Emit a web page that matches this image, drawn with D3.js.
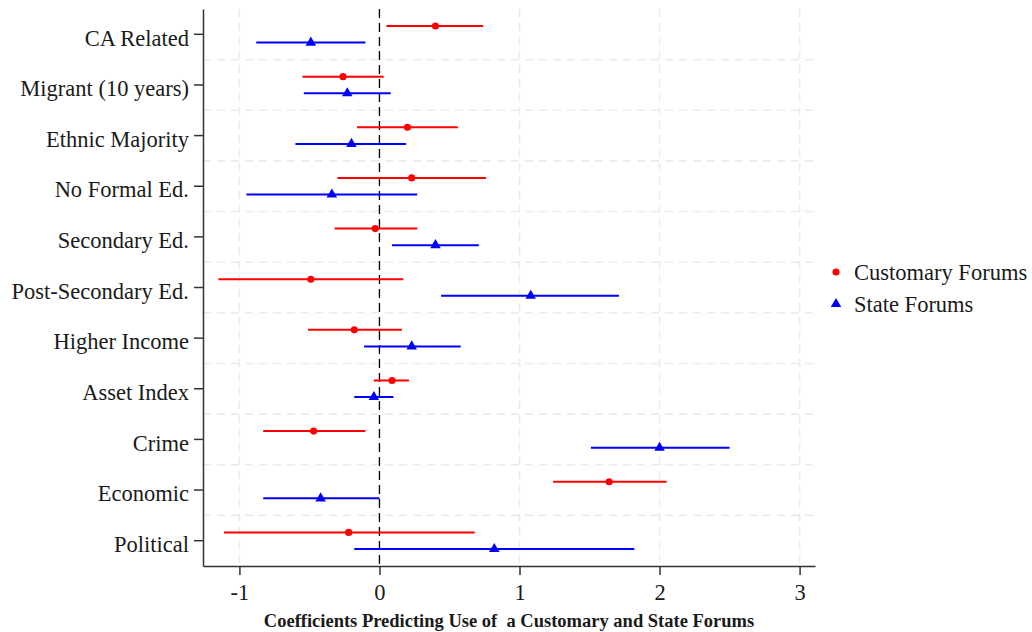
<!DOCTYPE html>
<html>
<head>
<meta charset="utf-8">
<script src="https://cdn.jsdelivr.net/npm/d3@7"></script>
<style>
body { margin: 0; background: #fff; }
text { font-family: "Liberation Serif", "Times New Roman", serif; fill: #1a1a1a; }
</style>
</head>
<body>
<div id="chart"></div>
<script>
var categories = ["CA Related", "Migrant (10 years)", "Ethnic Majority", "No Formal Ed.",
  "Secondary Ed.", "Post-Secondary Ed.", "Higher Income", "Asset Index",
  "Crime", "Economic", "Political"];

// Customary forums: estimate and interval
var custEst = [0.40, -0.26, 0.20, 0.23, -0.03, -0.49, -0.18, 0.09, -0.47, 1.64, -0.22];
var custLo  = [0.05, -0.55, -0.16, -0.30, -0.32, -1.15, -0.51, -0.04, -0.83, 1.24, -1.11];
var custHi  = [0.74, 0.03, 0.56, 0.76, 0.27, 0.17, 0.16, 0.21, -0.10, 2.05, 0.68];

// State forums
var stateEst = [-0.49, -0.23, -0.20, -0.34, 0.40, 1.08, 0.23, -0.04, 2.00, -0.42, 0.82];
var stateLo  = [-0.88, -0.54, -0.60, -0.95, 0.09, 0.44, -0.11, -0.18, 1.51, -0.83, -0.18];
var stateHi  = [-0.10, 0.08, 0.19, 0.27, 0.71, 1.71, 0.58, 0.10, 2.50, 0.00, 1.82];

var xTicks = [-1, 0, 1, 2, 3];
var seriesNames = ["Customary Forums", "State Forums"];
var seriesColors = ["#ff0000", "#0000ff"];
var xTitle = "Coefficients Predicting Use of  a Customary and State Forums";

var width = 1032, height = 632;
var serif = "'Liberation Serif', 'Times New Roman', serif";

var svg = d3.select("#chart").append("svg")
  .attr("width", width)
  .attr("height", height);

var xScale = d3.scaleLinear()
  .domain([-1.26, 3.11])
  .range([203, 815]);

var yScale = d3.scaleBand()
  .domain(categories)
  .range([9, 566]);

var bw = yScale.bandwidth();

//Grid lines
var grid = svg.append("g");
grid.selectAll(".hgrid")
  .data(categories.slice(1))
  .enter().append("line")
  .attr("x1", xScale.range()[0]).attr("x2", xScale.range()[1])
  .attr("y1", function(d) { return yScale(d); })
  .attr("y2", function(d) { return yScale(d); })
  .attr("stroke", "#ebebeb").attr("stroke-width", 1.6)
  .attr("stroke-dasharray", "8,6");

grid.selectAll(".vgrid")
  .data(xTicks)
  .enter().append("line")
  .attr("x1", function(d) { return xScale(d); })
  .attr("x2", function(d) { return xScale(d); })
  .attr("y1", yScale.range()[0]).attr("y2", yScale.range()[1])
  .attr("stroke", "#ebebeb").attr("stroke-width", 1.6)
  .attr("stroke-dasharray", "8,6");

//Zero reference line
svg.append("line")
  .attr("x1", xScale(0)).attr("x2", xScale(0))
  .attr("y1", yScale.range()[0]).attr("y2", yScale.range()[1])
  .attr("stroke", "#000").attr("stroke-width", 1.3)
  .attr("stroke-dasharray", "9,5");

//Build rows for each series
var series = [
  { name: seriesNames[0], color: seriesColors[0], offset: -8.3, est: custEst, lo: custLo, hi: custHi, shape: d3.symbolCircle, size: 40 },
  { name: seriesNames[1], color: seriesColors[1], offset: 8.3, est: stateEst, lo: stateLo, hi: stateHi, shape: d3.symbolTriangle, size: 48 }
];

series.forEach(function(s) {
  var rows = categories.map(function(c, i) {
    return { cat: c, est: s.est[i], lo: s.lo[i], hi: s.hi[i] };
  });
  var g = svg.append("g");
  g.selectAll("line")
    .data(rows)
    .enter().append("line")
    .attr("x1", function(d) { return xScale(d.lo); })
    .attr("x2", function(d) { return xScale(d.hi); })
    .attr("y1", function(d) { return yScale(d.cat) + bw / 2 + s.offset; })
    .attr("y2", function(d) { return yScale(d.cat) + bw / 2 + s.offset; })
    .attr("stroke", s.color).attr("stroke-width", 2);
  g.selectAll("path")
    .data(rows)
    .enter().append("path")
    .attr("d", d3.symbol().type(s.shape).size(s.size))
    .attr("transform", function(d) {
      return "translate(" + xScale(d.est) + "," + (yScale(d.cat) + bw / 2 + s.offset) + ")";
    })
    .attr("fill", s.color);
});

//Axes
var xAxis = d3.axisBottom(xScale)
  .tickValues(xTicks)
  .tickFormat(function(d) { return String(d); })
  .tickSize(9)
  .tickSizeOuter(0)
  .tickPadding(9);

var yAxis = d3.axisLeft(yScale)
  .tickSize(9)
  .tickSizeOuter(0)
  .tickPadding(5);

var gx = svg.append("g")
  .attr("transform", "translate(0," + yScale.range()[1] + ")")
  .call(xAxis);

var gy = svg.append("g")
  .attr("transform", "translate(" + xScale.range()[0] + ",0)")
  .call(yAxis);

gy.selectAll(".tick text").attr("dy", "0.5em");

[gx, gy].forEach(function(g) {
  g.attr("font-family", serif).attr("font-size", 22);
  g.select(".domain").attr("stroke", "#333").attr("stroke-width", 1.5);
  g.selectAll(".tick line").attr("stroke", "#333").attr("stroke-width", 1.5);
  g.selectAll(".tick text")
    .attr("fill", "#1a1a1a")
    .style("font-family", serif)
    .style("font-size", "22.5px");
});

//Axis title
svg.append("text")
  .attr("x", (xScale.range()[0] + xScale.range()[1]) / 2)
  .attr("y", 627)
  .attr("text-anchor", "middle")
  .style("font-family", serif)
  .style("font-size", "18.5px")
  .style("font-weight", "bold")
  .style("white-space", "pre")
  .text(xTitle);

//Legend
var legend = svg.append("g")
  .attr("transform", "translate(836,272)");

var items = legend.selectAll("g")
  .data(series)
  .enter().append("g")
  .attr("transform", function(d, i) { return "translate(0," + (i * 32) + ")"; });

items.append("path")
  .attr("d", function(d) { return d3.symbol().type(d.shape).size(d.size)(); })
  .attr("fill", function(d) { return d.color; });

items.append("text")
  .attr("x", 18)
  .attr("y", 0)
  .attr("dy", "0.35em")
  .style("font-family", serif)
  .style("font-size", "22.5px")
  .text(function(d) { return d.name; });
</script>
</body>
</html>
